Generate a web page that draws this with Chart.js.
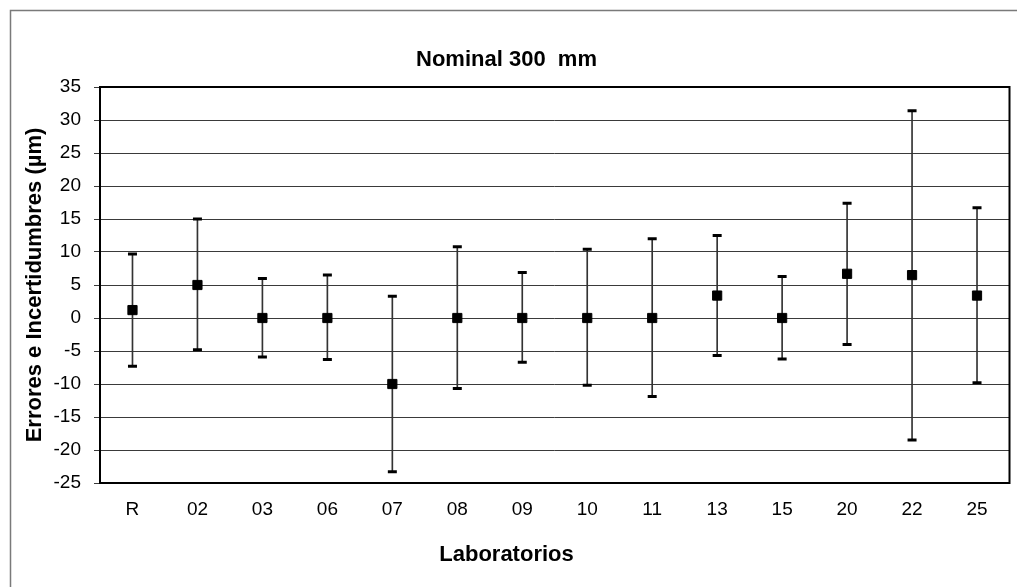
<!DOCTYPE html>
<html lang="es">
<head>
    <meta charset="UTF-8">
    <title>Nominal 300 mm</title>
    <script src="https://cdn.jsdelivr.net/npm/chart.js"></script>
    <style>
        html, body { margin: 0; padding: 0; background: #fff; }
        #wrap { width: 1017px; height: 587px; }
    </style>
</head>
<body>
    <div id="wrap"><canvas id="chart" width="1017" height="587"></canvas></div>
    <script>
        // Laboratorios y valores (µm)
        var labs = ['R', '02', '03', '06', '07', '08', '09', '10', '11', '13', '15', '20', '22', '25'];
        var errores = [1.2, 5.0, 0, 0, -10.0, 0, 0, 0, 0, 3.4, 0, 6.7, 6.5, 3.4];
        var superior = [9.7, 15.0, 6.0, 6.5, 3.3, 10.8, 6.9, 10.4, 12.0, 12.5, 6.3, 17.4, 31.4, 16.7];
        var inferior = [-7.3, -4.8, -5.9, -6.3, -23.3, -10.7, -6.7, -10.2, -11.9, -5.7, -6.2, -4.0, -18.5, -9.8];
        var yTicks = [-25, -20, -15, -10, -5, 0, 5, 10, 15, 20, 25, 30, 35];

        var fontFam = '"Liberation Sans", Arial, sans-serif';

        // marco exterior gris y borde negro del área de trazado
        var frames = {
            id: 'frames',
            beforeDraw: function(chart) {
                var ctx = chart.ctx;
                ctx.save();
                ctx.strokeStyle = '#7a7a7a';
                ctx.lineWidth = 1.5;
                ctx.strokeRect(10.5, 10.5, 1100, 700);
                ctx.restore();
            },
            afterDraw: function(chart) {
                var a = chart.chartArea, ctx = chart.ctx;
                ctx.save();
                ctx.strokeStyle = '#000';
                ctx.lineWidth = 2;
                ctx.strokeRect(a.left, a.top, a.right - a.left, a.bottom - a.top);
                ctx.restore();
            }
        };

        new Chart(document.getElementById('chart'), {
            type: 'bar',
            data: {
                labels: labs,
                datasets: [
                    {
                        type: 'line',
                        data: errores,
                        showLine: false,
                        pointStyle: 'rect',
                        pointRadius: 6.5,
                        pointBorderWidth: 1,
                        pointBackgroundColor: '#000',
                        pointBorderColor: '#000'
                    },
                    {
                        type: 'line',
                        data: superior,
                        showLine: false,
                        pointStyle: 'line',
                        pointRadius: 4.5,
                        pointBorderWidth: 3,
                        pointBorderColor: '#000'
                    },
                    {
                        type: 'line',
                        data: inferior,
                        showLine: false,
                        pointStyle: 'line',
                        pointRadius: 4.5,
                        pointBorderWidth: 3,
                        pointBorderColor: '#000'
                    },
                    {
                        data: inferior.map(function(lo, i) { return [lo, superior[i]]; }),
                        backgroundColor: '#333',
                        borderWidth: 0,
                        barThickness: 1
                    }
                ]
            },
            options: {
                responsive: false,
                animation: false,
                layout: { padding: { left: 0, right: 4, top: 0, bottom: 0 } },
                plugins: {
                    legend: { display: false },
                    tooltip: { enabled: false },
                    title: {
                        display: true,
                        text: 'Nominal 300  mm',
                        color: '#000',
                        font: { family: fontFam, size: 22, weight: 'bold' },
                        padding: { top: 46.8, bottom: 13.8 }
                    },
                    subtitle: {
                        display: true,
                        position: 'bottom',
                        text: 'Laboratorios',
                        color: '#000',
                        font: { family: fontFam, size: 22, weight: 'bold' },
                        padding: { top: 0, bottom: 18.8 }
                    }
                },
                scales: {
                    x: {
                        grid: { display: false, drawTicks: true, tickLength: 15.6 },
                        border: { display: false },
                        ticks: {
                            color: '#000',
                            padding: 0,
                            font: { family: fontFam, size: 19 }
                        },
                        afterFit: function(s) {
                            s.height = 58.8;
                            s.paddingLeft = 0;
                            s.paddingRight = 0;
                        }
                    },
                    y: {
                        min: -25,
                        max: 35,
                        afterBuildTicks: function(s) {
                            s.ticks = yTicks.map(function(v) { return { value: v }; });
                        },
                        grid: { color: '#3a3a3a', lineWidth: 1, drawTicks: true, tickLength: 6 },
                        border: { display: false },
                        ticks: {
                            color: '#000',
                            padding: 13,
                            font: { family: fontFam, size: 19 }
                        },
                        title: {
                            display: true,
                            text: 'Errores e Incertidumbres (µm)',
                            color: '#000',
                            font: { family: fontFam, size: 22, weight: 'bold' },
                            padding: { top: 21.8, bottom: 0 }
                        },
                        afterFit: function(s) { s.width = 100; }
                    }
                }
            },
            plugins: [frames]
        });
    </script>
</body>
</html>
